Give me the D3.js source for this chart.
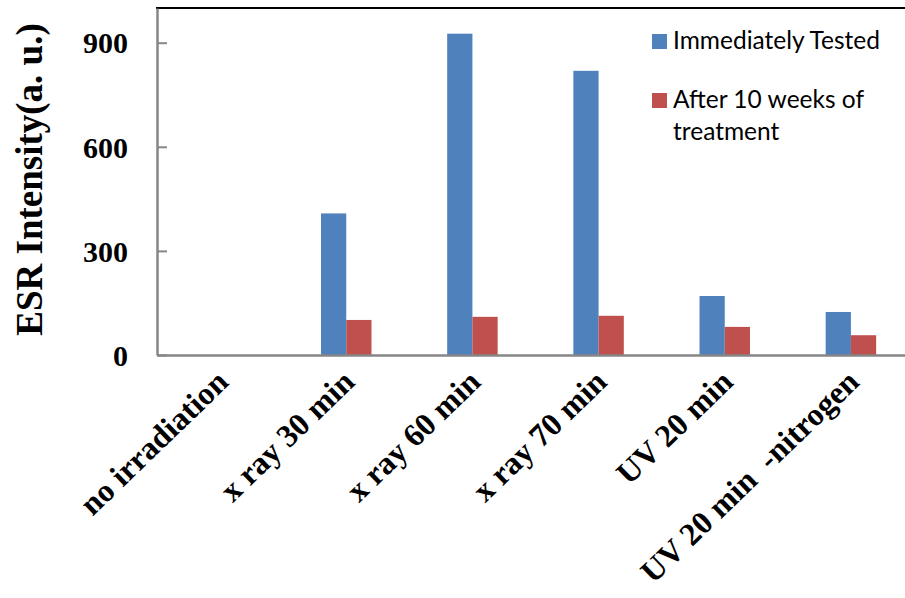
<!DOCTYPE html>
<html>
<head>
<meta charset="utf-8">
<script src="https://cdn.jsdelivr.net/npm/d3@7"></script>
<style>
  html, body { margin: 0; padding: 0; background: #fff; }
  svg { display: block; }
</style>
</head>
<body>
<svg id="chart" width="905" height="598"></svg>
<script>
const categories = ["no irradiation", "x ray 30 min", "x ray 60 min", "x ray 70 min", "UV 20 min", "UV 20 min  -nitrogen"];
const seriesNames = ["Immediately Tested", "After 10 weeks of treatment"];
const immediatelyTested = [0, 408, 926, 819, 170, 124];
const afterTenWeeks = [0, 101, 110, 113, 81, 57];
const yTicks = [0, 300, 600, 900];
const colors = ["#4F81BD", "#C0504D"];

const svg = d3.select("#chart");
const plotLeft = 157, plotRight = 914, plotTop = 8, plotBottom = 355;

const x0 = d3.scaleBand().domain(categories).range([plotLeft, plotRight]).padding(0);
const x1 = d3.scaleBand().domain(seriesNames)
  .range([x0.bandwidth() * 0.3, x0.bandwidth() * 0.7]).padding(0);
const y = d3.scaleLinear().domain([0, 1000]).range([plotBottom, plotTop]);

const data = categories.map((c, i) => ({
  cat: c,
  values: [
    { s: seriesNames[0], v: immediatelyTested[i] },
    { s: seriesNames[1], v: afterTenWeeks[i] }
  ]
}));

// bars
const g = svg.append("g");
g.selectAll("g.grp").data(data).join("g")
  .attr("class", "grp")
  .attr("transform", d => `translate(${x0(d.cat)},0)`)
  .selectAll("rect").data(d => d.values).join("rect")
  .attr("x", d => x1(d.s))
  .attr("width", x1.bandwidth())
  .attr("y", d => y(d.v))
  .attr("height", d => y(0) - y(d.v))
  .attr("fill", (d, i) => colors[i]);

// top border
svg.append("line")
  .attr("x1", plotLeft - 1).attr("x2", 905)
  .attr("y1", y(1000)).attr("y2", y(1000))
  .attr("stroke", "#000").attr("stroke-width", 2);

// y axis
const yAxis = d3.axisLeft(y).tickValues(yTicks).tickSize(-10).tickSizeOuter(0).tickFormat(d3.format("d"));
const ya = svg.append("g").attr("transform", `translate(${plotLeft},0)`).call(yAxis);
ya.select(".domain").attr("stroke", "#868686").attr("stroke-width", 2.5);
ya.selectAll(".tick line").attr("stroke", "#868686").attr("stroke-width", 2);
ya.selectAll(".tick text")
  .attr("x", -29)
  .attr("dy", "0.34em")
  .style("font-family", "'Liberation Serif', 'Times New Roman', serif")
  .style("font-weight", "bold")
  .style("font-size", "30px")
  .attr("fill", "#000");

// x axis
const xAxis = d3.axisBottom(x0).tickSize(0).tickSizeOuter(0);
const xa = svg.append("g").attr("transform", `translate(0,${plotBottom})`).call(xAxis);
xa.select(".domain").attr("stroke", "#868686").attr("stroke-width", 2.5);
xa.selectAll(".tick text")
  .attr("text-anchor", "end")
  .attr("x", 0).attr("y", 0).attr("dy", 0)
  .attr("transform", "translate(10,29) rotate(-44)")
  .style("white-space", "pre")
  .style("font-family", "'Liberation Serif', 'Times New Roman', serif")
  .style("font-weight", "bold")
  .style("font-size", "32px")
  .attr("fill", "#000");

// y title
svg.append("text")
  .attr("transform", `translate(42,${(22 + 337) / 2}) rotate(-90)`)
  .attr("text-anchor", "middle")
  .style("font-family", "'Liberation Serif', 'Times New Roman', serif")
  .style("font-weight", "bold")
  .style("font-size", "37px")
  .text("ESR Intensity(a. u.)");

// legend
const legend = svg.append("g").attr("transform", "translate(652,0)");
const legendItems = [
  { c: colors[0], lines: ["Immediately Tested"], y: 49 },
  { c: colors[1], lines: ["After 10 weeks of", "treatment"], y: 108 }
];
legendItems.forEach(it => {
  legend.append("rect").attr("x", 0).attr("y", it.y - 15).attr("width", 15).attr("height", 15).attr("fill", it.c);
  const t = legend.append("text")
    .attr("x", 21).attr("y", it.y)
    .style("font-family", "Lato, 'Open Sans', sans-serif")
    .style("font-size", "24.5px")
    .attr("fill", "#000");
  it.lines.forEach((l, i) => {
    t.append("tspan").attr("x", 21).attr("dy", i === 0 ? 0 : 32).text(l);
  });
});
</script>
</body>
</html>
